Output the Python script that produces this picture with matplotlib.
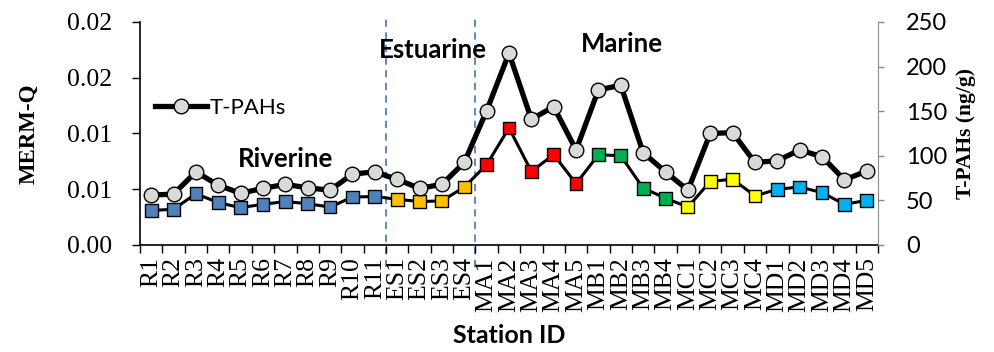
import matplotlib
matplotlib.use("Agg")
import matplotlib.pyplot as plt
from matplotlib.ticker import FixedLocator

# station ids
stations = ["R1", "R2", "R3", "R4", "R5", "R6", "R7", "R8", "R9", "R10", "R11",
            "ES1", "ES2", "ES3", "ES4",
            "MA1", "MA2", "MA3", "MA4", "MA5",
            "MB1", "MB2", "MB3", "MB4",
            "MC1", "MC2", "MC3", "MC4",
            "MD1", "MD2", "MD3", "MD4", "MD5"]

# T-PAHs (ng/g), right axis
tpahs = [56, 57, 82, 67, 58, 63.5, 68, 64, 61.5, 79.5, 82,
         73.5, 63.5, 68, 92.5,
         150.5, 215, 141, 155, 106.5,
         174, 179, 103.5, 82,
         61.5, 125, 126, 92.5,
         94.5, 106.5, 99, 73, 83]

# MERM-Q, left axis
mermq = [0.0031, 0.0032, 0.0046, 0.0038, 0.00335, 0.00365, 0.0039, 0.0037, 0.0034, 0.0043, 0.00435,
         0.0041, 0.0039, 0.00395, 0.0052,
         0.0072, 0.0105, 0.0066, 0.0081, 0.0055,
         0.0081, 0.0080, 0.0051, 0.0042,
         0.0034, 0.0057, 0.0059, 0.0044,
         0.0050, 0.0052, 0.0047, 0.00365, 0.0040]

# marker colour per station group
group_colors = {"R": "#4F81BD", "ES": "#FFC000", "MA": "#FF0000",
                "MB": "#00B050", "MC": "#FFFF00", "MD": "#00B0F0"}

left_ticks = [0, 0.005, 0.01, 0.015, 0.02]
left_ticklabels = ["0.00", "0.01", "0.01", "0.02", "0.02"]
right_ticks = [0, 50, 100, 150, 200, 250]

serif = "Liberation Serif"
sans = "Lato"

fig = plt.figure(figsize=(9.95, 3.52), dpi=100)
ax = fig.add_axes([0.1407, 0.304, 0.7417, 0.6335])
ax2 = ax.twinx()

x = list(range(len(stations)))
colors = []
for s in stations:
    key = s[:2] if s[:2] in group_colors else s[0]
    colors.append(group_colors[key])

# MERM-Q squares
ax.plot(x, mermq, color="black", lw=2.2, zorder=2)
ax.scatter(x, mermq, marker="s", s=85, c=colors, edgecolors="black",
           linewidths=1.0, zorder=3)

# T-PAHs circles
ax2.plot(x, tpahs, color="black", lw=3.8, marker="o", ms=10.5,
         mfc="#D9D9D9", mec="black", mew=1.0, label="T-PAHs", zorder=3)

ax.set_xlim(-0.5, len(stations) - 0.5)
ax.set_ylim(0, 0.02)
ax2.set_ylim(0, 250)

# left axis
ax.set_yticks(left_ticks)
ax.set_yticklabels(left_ticklabels, fontfamily=serif, fontsize=18.5)
ax.tick_params(axis="y", direction="out", length=6, width=1, pad=14)
ax.set_ylabel("MERM-Q", fontfamily=serif, fontsize=16.5, fontweight="bold")
ax.yaxis.set_label_coords(-0.136, 0.5)

# right axis
ax2.set_yticks(right_ticks)
ax2.set_yticklabels([str(v) for v in right_ticks], fontfamily=sans, fontsize=17)
ax2.tick_params(axis="y", direction="out", length=4, width=1, color="#8C8C8C", pad=16)
ax2.set_ylabel("T-PAHs (ng/g)", fontfamily=serif, fontsize=15.5, fontweight="bold")
ax2.yaxis.set_label_coords(1.106, 0.5)

# x axis: labels at centres, ticks at category boundaries
ax.set_xticks(x)
ax.set_xticklabels(stations, rotation=90, fontfamily=serif, fontsize=18.5)
ax.tick_params(axis="x", which="major", length=0, pad=9)
ax.xaxis.set_minor_locator(FixedLocator([i - 0.5 for i in range(len(stations) + 1)]))
ax.tick_params(axis="x", which="minor", direction="out", length=6, width=1)
ax.set_xlabel("Station ID", fontfamily=sans, fontsize=18, fontweight="bold")
ax.xaxis.set_label_coords(0.5, -0.355)

for a in (ax, ax2):
    a.spines["top"].set_visible(False)
ax.spines["right"].set_visible(False)
ax2.spines["left"].set_visible(False)
ax2.spines["bottom"].set_visible(False)
ax2.spines["right"].set_color("#8C8C8C")
ax.spines["left"].set_linewidth(1.2)
ax.spines["bottom"].set_linewidth(1.2)

# zone separators
for bx in (10.5, 14.5):
    ax.plot([bx, bx], [-0.1, 1.03], color="#4F81BD", lw=1.3, ls=(0, (4, 3)),
            transform=ax.get_xaxis_transform(), clip_on=False, zorder=1)

ax.text(6.0, 0.0077, "Riverine", fontfamily=sans, fontsize=18.5, fontweight="bold", ha="center", va="center")
ax.text(12.6, 0.0175, "Estuarine", fontfamily=sans, fontsize=18.5, fontweight="bold", ha="center", va="center")
ax.text(21.05, 0.0180, "Marine", fontfamily=sans, fontsize=18.5, fontweight="bold", ha="center", va="center")

leg = ax2.legend(loc="center left", bbox_to_anchor=(0.02, 0.614), frameon=False,
                 borderpad=0, borderaxespad=0, handlelength=2.35, handletextpad=0.1,
                 prop={"family": sans, "size": 16})

fig.savefig("out.png", dpi=100)
